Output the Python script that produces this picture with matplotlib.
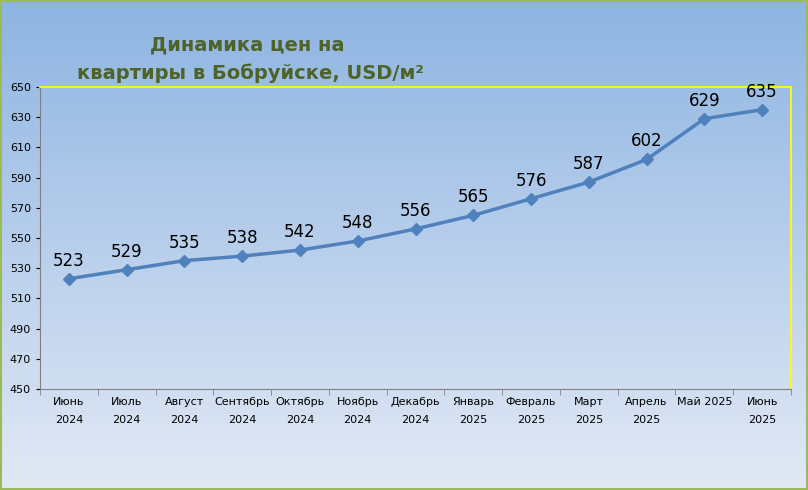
import matplotlib
matplotlib.use("Agg")
import matplotlib.pyplot as plt
import numpy as np

months = ["Июнь\n2024","Июль\n2024","Август\n2024","Сентябрь\n2024","Октябрь\n2024","Ноябрь\n2024",
          "Декабрь\n2024","Январь\n2025","Февраль\n2025","Март\n2025","Апрель\n2025","Май 2025","Июнь\n2025"]
prices = [523,529,535,538,542,548,556,565,576,587,602,629,635]
yticks = list(range(450, 651, 20))

W, H = 808, 490
fig = plt.figure(figsize=(W/100, H/100), dpi=100)
bg = fig.add_axes([0,0,1,1], zorder=-10)
grad = np.linspace(0,1,256).reshape(-1,1)
top = np.array([0x8d,0xb4,0xe2])/255; bot = np.array([0xe2,0xe9,0xf5])/255
img = top[None,None,:]*(1-grad[:,:,None]) + bot[None,None,:]*grad[:,:,None]
bg.imshow(img, aspect='auto', extent=[0,1,0,1])
bg.set_xlim(0,1); bg.set_ylim(0,1); bg.axis('off')
bg.add_patch(plt.Rectangle((0.001,0.002),0.998,0.996, fill=False, ec='#9bbb59', lw=1.5))

ax = fig.add_axes([40/W, 1-389/H, (791-40)/W, (389-87)/H])
ax.patch.set_alpha(0)
x = np.arange(len(prices))
ax.plot(x, prices, color='#4f81bd', lw=2.5, marker='D', ms=6)
for xi, p in zip(x, prices):
    ax.text(xi, p+6, str(p), ha='center', va='bottom', fontsize=12)
ax.set_xlim(-0.5, len(prices)-0.5)
ax.set_ylim(450, 650)
ax.set_yticks(yticks)
ax.set_yticklabels([str(t) for t in yticks], fontsize=8)
ax.set_xticks(x)
ax.set_xticklabels(months, fontsize=8, linespacing=1.9)
ax.tick_params(axis='x', length=0, pad=6)
ax.tick_params(axis='y', length=3)
for s in ['top','right']:
    ax.spines[s].set_color('#ffff00')
    ax.spines[s].set_linewidth(1.3)
ax.spines['left'].set_color('#808080')
ax.spines['bottom'].set_color('#808080')
ax.set_xticks(np.arange(-0.5, len(prices)), minor=True)
ax.tick_params(axis='x', which='minor', length=4, color='#808080')

fig.text(247/W, 1-45/H, "Динамика цен на", ha='center', va='center', fontsize=14, fontweight='bold', color='#4f6228')
fig.text(250/W, 1-73/H, "квартиры в Бобруйске, USD/м²", ha='center', va='center', fontsize=14, fontweight='bold', color='#4f6228')
fig.savefig("out.png", dpi=100)
